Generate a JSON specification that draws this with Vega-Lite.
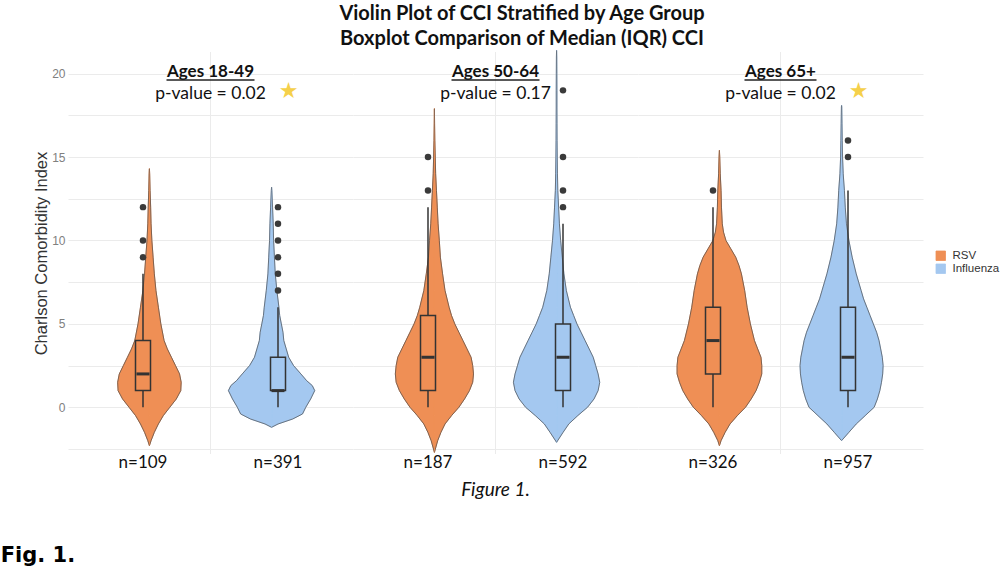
{
  "$schema": "https://vega.github.io/schema/vega-lite/v6.json",
  "padding": {"left": 0, "top": 4, "right": 0, "bottom": 0},
  "background": "white",
  "title": {"text": "Fig. 1.", "orient": "bottom", "anchor": "start", "frame": "bounds", "dx": -33, "offset": 45, "font": "DejaVu Sans", "fontSize": 21, "fontWeight": "bold", "color": "#000000"},
  "data": {"values": [
    {"kind":"v","age":"18-49","virus":"RSV","cci":-2.3,"dens":0},
    {"kind":"v","age":"18-49","virus":"RSV","cci":-2,"dens":0.02},
    {"kind":"v","age":"18-49","virus":"RSV","cci":-1.5,"dens":0.06},
    {"kind":"v","age":"18-49","virus":"RSV","cci":-1,"dens":0.11},
    {"kind":"v","age":"18-49","virus":"RSV","cci":-0.5,"dens":0.17},
    {"kind":"v","age":"18-49","virus":"RSV","cci":0,"dens":0.25},
    {"kind":"v","age":"18-49","virus":"RSV","cci":0.5,"dens":0.33},
    {"kind":"v","age":"18-49","virus":"RSV","cci":1,"dens":0.385},
    {"kind":"v","age":"18-49","virus":"RSV","cci":1.5,"dens":0.39},
    {"kind":"v","age":"18-49","virus":"RSV","cci":2,"dens":0.37},
    {"kind":"v","age":"18-49","virus":"RSV","cci":2.5,"dens":0.32},
    {"kind":"v","age":"18-49","virus":"RSV","cci":3,"dens":0.27},
    {"kind":"v","age":"18-49","virus":"RSV","cci":3.5,"dens":0.22},
    {"kind":"v","age":"18-49","virus":"RSV","cci":4,"dens":0.18},
    {"kind":"v","age":"18-49","virus":"RSV","cci":5,"dens":0.14},
    {"kind":"v","age":"18-49","virus":"RSV","cci":6,"dens":0.11},
    {"kind":"v","age":"18-49","virus":"RSV","cci":7,"dens":0.08},
    {"kind":"v","age":"18-49","virus":"RSV","cci":8,"dens":0.06},
    {"kind":"v","age":"18-49","virus":"RSV","cci":9,"dens":0.045},
    {"kind":"v","age":"18-49","virus":"RSV","cci":10,"dens":0.03},
    {"kind":"v","age":"18-49","virus":"RSV","cci":11,"dens":0.02},
    {"kind":"v","age":"18-49","virus":"RSV","cci":12,"dens":0.015},
    {"kind":"v","age":"18-49","virus":"RSV","cci":13,"dens":0.008},
    {"kind":"v","age":"18-49","virus":"RSV","cci":14,"dens":0.003},
    {"kind":"v","age":"18-49","virus":"RSV","cci":14.3,"dens":0},

    {"kind":"v","age":"18-49","virus":"Influenza","cci":-1.2,"dens":0},
    {"kind":"v","age":"18-49","virus":"Influenza","cci":-1,"dens":0.08},
    {"kind":"v","age":"18-49","virus":"Influenza","cci":-0.7,"dens":0.26},
    {"kind":"v","age":"18-49","virus":"Influenza","cci":-0.4,"dens":0.38},
    {"kind":"v","age":"18-49","virus":"Influenza","cci":0,"dens":0.42},
    {"kind":"v","age":"18-49","virus":"Influenza","cci":0.5,"dens":0.48},
    {"kind":"v","age":"18-49","virus":"Influenza","cci":1,"dens":0.53},
    {"kind":"v","age":"18-49","virus":"Influenza","cci":1.3,"dens":0.5},
    {"kind":"v","age":"18-49","virus":"Influenza","cci":1.6,"dens":0.43},
    {"kind":"v","age":"18-49","virus":"Influenza","cci":2,"dens":0.36},
    {"kind":"v","age":"18-49","virus":"Influenza","cci":2.5,"dens":0.27},
    {"kind":"v","age":"18-49","virus":"Influenza","cci":3,"dens":0.21},
    {"kind":"v","age":"18-49","virus":"Influenza","cci":3.5,"dens":0.18},
    {"kind":"v","age":"18-49","virus":"Influenza","cci":4,"dens":0.15},
    {"kind":"v","age":"18-49","virus":"Influenza","cci":4.5,"dens":0.14},
    {"kind":"v","age":"18-49","virus":"Influenza","cci":5,"dens":0.12},
    {"kind":"v","age":"18-49","virus":"Influenza","cci":5.5,"dens":0.1},
    {"kind":"v","age":"18-49","virus":"Influenza","cci":6,"dens":0.09},
    {"kind":"v","age":"18-49","virus":"Influenza","cci":7,"dens":0.065},
    {"kind":"v","age":"18-49","virus":"Influenza","cci":8,"dens":0.045},
    {"kind":"v","age":"18-49","virus":"Influenza","cci":9,"dens":0.035},
    {"kind":"v","age":"18-49","virus":"Influenza","cci":10,"dens":0.025},
    {"kind":"v","age":"18-49","virus":"Influenza","cci":11,"dens":0.02},
    {"kind":"v","age":"18-49","virus":"Influenza","cci":12,"dens":0.012},
    {"kind":"v","age":"18-49","virus":"Influenza","cci":13,"dens":0.003},
    {"kind":"v","age":"18-49","virus":"Influenza","cci":13.2,"dens":0},

    {"kind":"v","age":"50-64","virus":"RSV","cci":-2.7,"dens":0},
    {"kind":"v","age":"50-64","virus":"RSV","cci":-2,"dens":0.04},
    {"kind":"v","age":"50-64","virus":"RSV","cci":-1.5,"dens":0.08},
    {"kind":"v","age":"50-64","virus":"RSV","cci":-1,"dens":0.13},
    {"kind":"v","age":"50-64","virus":"RSV","cci":-0.5,"dens":0.21},
    {"kind":"v","age":"50-64","virus":"RSV","cci":0,"dens":0.3},
    {"kind":"v","age":"50-64","virus":"RSV","cci":0.5,"dens":0.37},
    {"kind":"v","age":"50-64","virus":"RSV","cci":1,"dens":0.43},
    {"kind":"v","age":"50-64","virus":"RSV","cci":1.5,"dens":0.47},
    {"kind":"v","age":"50-64","virus":"RSV","cci":2,"dens":0.48},
    {"kind":"v","age":"50-64","virus":"RSV","cci":2.5,"dens":0.47},
    {"kind":"v","age":"50-64","virus":"RSV","cci":3,"dens":0.45},
    {"kind":"v","age":"50-64","virus":"RSV","cci":3.5,"dens":0.4},
    {"kind":"v","age":"50-64","virus":"RSV","cci":4,"dens":0.35},
    {"kind":"v","age":"50-64","virus":"RSV","cci":4.5,"dens":0.3},
    {"kind":"v","age":"50-64","virus":"RSV","cci":5,"dens":0.25},
    {"kind":"v","age":"50-64","virus":"RSV","cci":5.5,"dens":0.21},
    {"kind":"v","age":"50-64","virus":"RSV","cci":6,"dens":0.18},
    {"kind":"v","age":"50-64","virus":"RSV","cci":7,"dens":0.13},
    {"kind":"v","age":"50-64","virus":"RSV","cci":8,"dens":0.1},
    {"kind":"v","age":"50-64","virus":"RSV","cci":9,"dens":0.073},
    {"kind":"v","age":"50-64","virus":"RSV","cci":10,"dens":0.06},
    {"kind":"v","age":"50-64","virus":"RSV","cci":11,"dens":0.045},
    {"kind":"v","age":"50-64","virus":"RSV","cci":12,"dens":0.035},
    {"kind":"v","age":"50-64","virus":"RSV","cci":13,"dens":0.025},
    {"kind":"v","age":"50-64","virus":"RSV","cci":14,"dens":0.015},
    {"kind":"v","age":"50-64","virus":"RSV","cci":15,"dens":0.01},
    {"kind":"v","age":"50-64","virus":"RSV","cci":16,"dens":0.005},
    {"kind":"v","age":"50-64","virus":"RSV","cci":17,"dens":0.002},
    {"kind":"v","age":"50-64","virus":"RSV","cci":17.9,"dens":0},

    {"kind":"v","age":"50-64","virus":"Influenza","cci":-2.1,"dens":0},
    {"kind":"v","age":"50-64","virus":"Influenza","cci":-1.5,"dens":0.08},
    {"kind":"v","age":"50-64","virus":"Influenza","cci":-1,"dens":0.15},
    {"kind":"v","age":"50-64","virus":"Influenza","cci":-0.5,"dens":0.26},
    {"kind":"v","age":"50-64","virus":"Influenza","cci":0,"dens":0.38},
    {"kind":"v","age":"50-64","virus":"Influenza","cci":0.5,"dens":0.46},
    {"kind":"v","age":"50-64","virus":"Influenza","cci":1,"dens":0.51},
    {"kind":"v","age":"50-64","virus":"Influenza","cci":1.5,"dens":0.53},
    {"kind":"v","age":"50-64","virus":"Influenza","cci":2,"dens":0.51},
    {"kind":"v","age":"50-64","virus":"Influenza","cci":2.5,"dens":0.48},
    {"kind":"v","age":"50-64","virus":"Influenza","cci":3,"dens":0.45},
    {"kind":"v","age":"50-64","virus":"Influenza","cci":3.5,"dens":0.4},
    {"kind":"v","age":"50-64","virus":"Influenza","cci":4,"dens":0.35},
    {"kind":"v","age":"50-64","virus":"Influenza","cci":4.5,"dens":0.3},
    {"kind":"v","age":"50-64","virus":"Influenza","cci":5,"dens":0.25},
    {"kind":"v","age":"50-64","virus":"Influenza","cci":5.5,"dens":0.21},
    {"kind":"v","age":"50-64","virus":"Influenza","cci":6,"dens":0.17},
    {"kind":"v","age":"50-64","virus":"Influenza","cci":7,"dens":0.12},
    {"kind":"v","age":"50-64","virus":"Influenza","cci":8,"dens":0.09},
    {"kind":"v","age":"50-64","virus":"Influenza","cci":9,"dens":0.07},
    {"kind":"v","age":"50-64","virus":"Influenza","cci":10,"dens":0.05},
    {"kind":"v","age":"50-64","virus":"Influenza","cci":11,"dens":0.035},
    {"kind":"v","age":"50-64","virus":"Influenza","cci":12,"dens":0.025},
    {"kind":"v","age":"50-64","virus":"Influenza","cci":13,"dens":0.015},
    {"kind":"v","age":"50-64","virus":"Influenza","cci":14,"dens":0.011},
    {"kind":"v","age":"50-64","virus":"Influenza","cci":15,"dens":0.008},
    {"kind":"v","age":"50-64","virus":"Influenza","cci":16,"dens":0.006},
    {"kind":"v","age":"50-64","virus":"Influenza","cci":17,"dens":0.005},
    {"kind":"v","age":"50-64","virus":"Influenza","cci":18,"dens":0.004},
    {"kind":"v","age":"50-64","virus":"Influenza","cci":19,"dens":0.004},
    {"kind":"v","age":"50-64","virus":"Influenza","cci":20,"dens":0.003},
    {"kind":"v","age":"50-64","virus":"Influenza","cci":21,"dens":0.002},
    {"kind":"v","age":"50-64","virus":"Influenza","cci":21.4,"dens":0},

    {"kind":"v","age":"65+","virus":"RSV","cci":-2.3,"dens":0},
    {"kind":"v","age":"65+","virus":"RSV","cci":-2,"dens":0.02},
    {"kind":"v","age":"65+","virus":"RSV","cci":-1.5,"dens":0.07},
    {"kind":"v","age":"65+","virus":"RSV","cci":-1,"dens":0.13},
    {"kind":"v","age":"65+","virus":"RSV","cci":-0.5,"dens":0.22},
    {"kind":"v","age":"65+","virus":"RSV","cci":0,"dens":0.32},
    {"kind":"v","age":"65+","virus":"RSV","cci":0.5,"dens":0.39},
    {"kind":"v","age":"65+","virus":"RSV","cci":1,"dens":0.45},
    {"kind":"v","age":"65+","virus":"RSV","cci":1.5,"dens":0.49},
    {"kind":"v","age":"65+","virus":"RSV","cci":2,"dens":0.52},
    {"kind":"v","age":"65+","virus":"RSV","cci":2.5,"dens":0.52},
    {"kind":"v","age":"65+","virus":"RSV","cci":3,"dens":0.51},
    {"kind":"v","age":"65+","virus":"RSV","cci":3.5,"dens":0.47},
    {"kind":"v","age":"65+","virus":"RSV","cci":4,"dens":0.43},
    {"kind":"v","age":"65+","virus":"RSV","cci":5,"dens":0.38},
    {"kind":"v","age":"65+","virus":"RSV","cci":6,"dens":0.34},
    {"kind":"v","age":"65+","virus":"RSV","cci":7,"dens":0.31},
    {"kind":"v","age":"65+","virus":"RSV","cci":8,"dens":0.27},
    {"kind":"v","age":"65+","virus":"RSV","cci":8.5,"dens":0.24},
    {"kind":"v","age":"65+","virus":"RSV","cci":9,"dens":0.2},
    {"kind":"v","age":"65+","virus":"RSV","cci":9.5,"dens":0.14},
    {"kind":"v","age":"65+","virus":"RSV","cci":10,"dens":0.08},
    {"kind":"v","age":"65+","virus":"RSV","cci":10.5,"dens":0.05},
    {"kind":"v","age":"65+","virus":"RSV","cci":11,"dens":0.035},
    {"kind":"v","age":"65+","virus":"RSV","cci":12,"dens":0.025},
    {"kind":"v","age":"65+","virus":"RSV","cci":13,"dens":0.02},
    {"kind":"v","age":"65+","virus":"RSV","cci":14,"dens":0.01},
    {"kind":"v","age":"65+","virus":"RSV","cci":15,"dens":0.004},
    {"kind":"v","age":"65+","virus":"RSV","cci":15.4,"dens":0},

    {"kind":"v","age":"65+","virus":"Influenza","cci":-2,"dens":0},
    {"kind":"v","age":"65+","virus":"Influenza","cci":-1.5,"dens":0.09},
    {"kind":"v","age":"65+","virus":"Influenza","cci":-1,"dens":0.18},
    {"kind":"v","age":"65+","virus":"Influenza","cci":-0.5,"dens":0.29},
    {"kind":"v","age":"65+","virus":"Influenza","cci":0,"dens":0.4},
    {"kind":"v","age":"65+","virus":"Influenza","cci":0.5,"dens":0.44},
    {"kind":"v","age":"65+","virus":"Influenza","cci":1,"dens":0.47},
    {"kind":"v","age":"65+","virus":"Influenza","cci":1.5,"dens":0.49},
    {"kind":"v","age":"65+","virus":"Influenza","cci":2,"dens":0.505},
    {"kind":"v","age":"65+","virus":"Influenza","cci":2.5,"dens":0.51},
    {"kind":"v","age":"65+","virus":"Influenza","cci":3,"dens":0.5},
    {"kind":"v","age":"65+","virus":"Influenza","cci":3.5,"dens":0.48},
    {"kind":"v","age":"65+","virus":"Influenza","cci":4,"dens":0.46},
    {"kind":"v","age":"65+","virus":"Influenza","cci":4.5,"dens":0.43},
    {"kind":"v","age":"65+","virus":"Influenza","cci":5,"dens":0.39},
    {"kind":"v","age":"65+","virus":"Influenza","cci":5.5,"dens":0.35},
    {"kind":"v","age":"65+","virus":"Influenza","cci":6,"dens":0.31},
    {"kind":"v","age":"65+","virus":"Influenza","cci":6.5,"dens":0.27},
    {"kind":"v","age":"65+","virus":"Influenza","cci":7,"dens":0.24},
    {"kind":"v","age":"65+","virus":"Influenza","cci":7.5,"dens":0.21},
    {"kind":"v","age":"65+","virus":"Influenza","cci":8,"dens":0.18},
    {"kind":"v","age":"65+","virus":"Influenza","cci":9,"dens":0.13},
    {"kind":"v","age":"65+","virus":"Influenza","cci":10,"dens":0.09},
    {"kind":"v","age":"65+","virus":"Influenza","cci":11,"dens":0.06},
    {"kind":"v","age":"65+","virus":"Influenza","cci":12,"dens":0.045},
    {"kind":"v","age":"65+","virus":"Influenza","cci":13,"dens":0.035},
    {"kind":"v","age":"65+","virus":"Influenza","cci":14,"dens":0.02},
    {"kind":"v","age":"65+","virus":"Influenza","cci":15,"dens":0.012},
    {"kind":"v","age":"65+","virus":"Influenza","cci":16,"dens":0.008},
    {"kind":"v","age":"65+","virus":"Influenza","cci":17,"dens":0.005},
    {"kind":"v","age":"65+","virus":"Influenza","cci":18,"dens":0.002},
    {"kind":"v","age":"65+","virus":"Influenza","cci":18.1,"dens":0},

    {"kind":"b","age":"18-49","virus":"RSV","lo":0,"q1":1,"med":2,"q3":4,"hi":8,"nlab":"n=109"},
    {"kind":"b","age":"18-49","virus":"Influenza","lo":0,"q1":1,"med":1,"q3":3,"hi":6,"nlab":"n=391"},
    {"kind":"b","age":"50-64","virus":"RSV","lo":0,"q1":1,"med":3,"q3":5.5,"hi":12,"nlab":"n=187"},
    {"kind":"b","age":"50-64","virus":"Influenza","lo":0,"q1":1,"med":3,"q3":5,"hi":11,"nlab":"n=592"},
    {"kind":"b","age":"65+","virus":"RSV","lo":0,"q1":2,"med":4,"q3":6,"hi":12,"nlab":"n=326"},
    {"kind":"b","age":"65+","virus":"Influenza","lo":0,"q1":1,"med":3,"q3":6,"hi":13,"nlab":"n=957"},

    {"kind":"o","age":"18-49","virus":"RSV","cci":9},
    {"kind":"o","age":"18-49","virus":"RSV","cci":10},
    {"kind":"o","age":"18-49","virus":"RSV","cci":12},
    {"kind":"o","age":"18-49","virus":"Influenza","cci":7},
    {"kind":"o","age":"18-49","virus":"Influenza","cci":8},
    {"kind":"o","age":"18-49","virus":"Influenza","cci":9},
    {"kind":"o","age":"18-49","virus":"Influenza","cci":10},
    {"kind":"o","age":"18-49","virus":"Influenza","cci":11},
    {"kind":"o","age":"18-49","virus":"Influenza","cci":12},
    {"kind":"o","age":"50-64","virus":"RSV","cci":13},
    {"kind":"o","age":"50-64","virus":"RSV","cci":15},
    {"kind":"o","age":"50-64","virus":"Influenza","cci":12},
    {"kind":"o","age":"50-64","virus":"Influenza","cci":13},
    {"kind":"o","age":"50-64","virus":"Influenza","cci":15},
    {"kind":"o","age":"50-64","virus":"Influenza","cci":19},
    {"kind":"o","age":"65+","virus":"RSV","cci":13},
    {"kind":"o","age":"65+","virus":"Influenza","cci":15},
    {"kind":"o","age":"65+","virus":"Influenza","cci":16},

    {"kind":"a","age":"18-49","title":"Ages 18-49","pv":"p-value = 0.02","star":"★"},
    {"kind":"a","age":"50-64","title":"Ages 50-64","pv":"p-value = 0.17","star":""},
    {"kind":"a","age":"65+","title":"Ages 65+","pv":"p-value = 0.02","star":"★"}
  ]},
  "vconcat": [{
    "title": {"text": ["Violin Plot of CCI Stratified by Age Group", "Boxplot Comparison of Median (IQR) CCI"], "font": "Lato", "fontSize": 20, "fontWeight": "bold", "lineHeight": 25, "anchor": "middle", "frame": "group", "dx": 454, "offset": -1, "color": "#111111"},
    "facet": {"column": {"field": "age", "type": "nominal", "title": null, "sort": ["18-49", "50-64", "65+"],
      "header": {"labelOrient": "bottom", "labelExpr": "datum.value === '50-64' ? 'Figure 1.' : ''", "labelFont": "Lato", "labelFontSize": 19, "labelFontStyle": "italic", "labelColor": "#111111", "labelPadding": 10}}},
    "spacing": 0,
    "spec": {
      "width": 285,
      "height": 402,
      "resolve": {"scale": {"x": "independent"}},
      "layer": [
        {"transform": [{"filter": "datum.kind === 'v' && datum.virus === 'RSV'"}],
         "layer": [
          {"mark": {"type": "area", "orient": "horizontal", "strokeWidth": 1},
           "encoding": {
             "y": {"field": "cci", "type": "quantitative", "title": "Charlson Comorbidity Index",
                   "scale": {"domain": [-2.8, 21.3], "nice": false, "zero": false},
                   "axis": {"values": [-2.5, 0, 2.5, 5, 7.5, 10, 12.5, 15, 17.5, 20], "labelExpr": "datum.value % 5 === 0 ? '' + datum.value : ''", "grid": true, "gridColor": "#EBEBEB", "gridWidth": 1, "ticks": false, "domain": false, "labelFont": "Liberation Sans", "labelFontSize": 12, "labelColor": "#808080", "labelPadding": 3, "titleFont": "Liberation Sans", "titleFontSize": 16.5, "titleFontWeight": "normal", "titleColor": "#333333", "titlePadding": 2}},
             "x": {"field": "dens", "type": "quantitative", "stack": null, "scale": {"domain": [-0.84, 2.01]}, "axis": null},
             "color": {"field": "virus", "type": "nominal", "scale": {"domain": ["RSV", "Influenza"], "range": ["#EF8F55", "#A4C8F0"]},
                       "legend": {"title": null, "orient": "none", "legendX": 867, "legendY": 198, "symbolType": "square", "symbolSize": 90, "symbolStrokeColor": "#555555", "symbolStrokeWidth": 0.8, "symbolOpacity": 1, "labelFont": "Liberation Sans", "labelFontSize": 11.5, "labelColor": "#333333", "rowPadding": -3, "labelOffset": 6}},
             "stroke": {"field": "virus", "type": "nominal", "scale": {"domain": ["RSV", "Influenza"], "range": ["#EF8F55", "#A4C8F0"]}, "legend": null}
           }},
          {"mark": {"type": "line", "color": "#4d4d4d", "strokeWidth": 0.7},
           "encoding": {"y": {"field": "cci", "type": "quantitative"}, "x": {"field": "dens", "type": "quantitative"}, "order": {"field": "cci", "type": "quantitative"}}}
         ]},
        {"transform": [{"filter": "datum.kind === 'v' && datum.virus === 'RSV'"}],
         "layer": [
          {"mark": {"type": "area", "orient": "horizontal", "strokeWidth": 1},
           "encoding": {
             "y": {"field": "cci", "type": "quantitative"},
             "x": {"field": "dens", "type": "quantitative", "stack": null, "scale": {"domain": [-2.01, 0.84], "reverse": true}, "axis": null},
             "color": {"field": "virus", "type": "nominal"},
             "stroke": {"field": "virus", "type": "nominal", "legend": null}
           }},
          {"mark": {"type": "line", "color": "#4d4d4d", "strokeWidth": 0.7},
           "encoding": {"y": {"field": "cci", "type": "quantitative"}, "x": {"field": "dens", "type": "quantitative"}, "order": {"field": "cci", "type": "quantitative"}}}
         ]},
        {"transform": [{"filter": "datum.kind === 'v' && datum.virus === 'Influenza'"}],
         "layer": [
          {"mark": {"type": "area", "orient": "horizontal", "strokeWidth": 1},
           "encoding": {
             "y": {"field": "cci", "type": "quantitative"},
             "x": {"field": "dens", "type": "quantitative", "stack": null, "scale": {"domain": [-2.01, 0.84]}, "axis": null},
             "color": {"field": "virus", "type": "nominal"},
             "stroke": {"field": "virus", "type": "nominal", "legend": null}
           }},
          {"mark": {"type": "line", "color": "#4d4d4d", "strokeWidth": 0.7},
           "encoding": {"y": {"field": "cci", "type": "quantitative"}, "x": {"field": "dens", "type": "quantitative"}, "order": {"field": "cci", "type": "quantitative"}}}
         ]},
        {"transform": [{"filter": "datum.kind === 'v' && datum.virus === 'Influenza'"}],
         "layer": [
          {"mark": {"type": "area", "orient": "horizontal", "strokeWidth": 1},
           "encoding": {
             "y": {"field": "cci", "type": "quantitative"},
             "x": {"field": "dens", "type": "quantitative", "stack": null, "scale": {"domain": [-0.84, 2.01], "reverse": true}, "axis": null},
             "color": {"field": "virus", "type": "nominal"},
             "stroke": {"field": "virus", "type": "nominal", "legend": null}
           }},
          {"mark": {"type": "line", "color": "#4d4d4d", "strokeWidth": 0.7},
           "encoding": {"y": {"field": "cci", "type": "quantitative"}, "x": {"field": "dens", "type": "quantitative"}, "order": {"field": "cci", "type": "quantitative"}}}
         ]},
        {"layer": [
          {"transform": [{"filter": "datum.kind === 'a'"}],
           "mark": {"type": "rule", "color": "#EBEBEB", "strokeWidth": 1},
           "encoding": {"x": {"datum": "mid", "type": "nominal", "scale": {"type": "band", "domain": ["RSV", "mid", "Influenza"], "paddingInner": 0.7778, "paddingOuter": 1.3248}, "axis": null}}},
          {"transform": [{"filter": "datum.kind === 'b'"}],
           "mark": {"type": "rule", "color": "#333333", "strokeWidth": 1.5},
           "encoding": {"x": {"field": "virus", "type": "nominal", "scale": {"type": "band", "domain": ["RSV", "mid", "Influenza"], "paddingInner": 0.7778, "paddingOuter": 1.3248}, "axis": null},
                        "y": {"field": "lo", "type": "quantitative"}, "y2": {"field": "q1"}}},
          {"transform": [{"filter": "datum.kind === 'b'"}],
           "mark": {"type": "rule", "color": "#333333", "strokeWidth": 1.5},
           "encoding": {"x": {"field": "virus", "type": "nominal", "scale": {"type": "band", "domain": ["RSV", "mid", "Influenza"], "paddingInner": 0.7778, "paddingOuter": 1.3248}, "axis": null},
                        "y": {"field": "q3", "type": "quantitative"}, "y2": {"field": "hi"}}},
          {"transform": [{"filter": "datum.kind === 'b'"}],
           "mark": {"type": "bar", "fill": "transparent", "stroke": "#333333", "strokeWidth": 1.5},
           "encoding": {"x": {"field": "virus", "type": "nominal", "scale": {"type": "band", "domain": ["RSV", "mid", "Influenza"], "paddingInner": 0.7778, "paddingOuter": 1.3248}, "axis": null},
                        "y": {"field": "q1", "type": "quantitative"}, "y2": {"field": "q3"}}},
          {"transform": [{"filter": "datum.kind === 'b'"}],
           "mark": {"type": "tick", "orient": "horizontal", "color": "#333333", "thickness": 3, "size": 13, "opacity": 1},
           "encoding": {"x": {"field": "virus", "type": "nominal", "scale": {"type": "band", "domain": ["RSV", "mid", "Influenza"], "paddingInner": 0.7778, "paddingOuter": 1.3248}, "axis": null},
                        "y": {"field": "med", "type": "quantitative"}}},
          {"transform": [{"filter": "datum.kind === 'o'"}],
           "mark": {"type": "point", "filled": true, "color": "#3a3a3a", "size": 42, "opacity": 1},
           "encoding": {"x": {"field": "virus", "type": "nominal", "scale": {"type": "band", "domain": ["RSV", "mid", "Influenza"], "paddingInner": 0.7778, "paddingOuter": 1.3248}, "axis": null},
                        "y": {"field": "cci", "type": "quantitative"}}},
          {"transform": [{"filter": "datum.kind === 'b'"}],
           "mark": {"type": "text", "font": "Lato", "fontSize": 17, "color": "#111111", "baseline": "middle"},
           "encoding": {"x": {"field": "virus", "type": "nominal", "scale": {"type": "band", "domain": ["RSV", "mid", "Influenza"], "paddingInner": 0.7778, "paddingOuter": 1.3248}, "axis": null},
                        "y": {"datum": -3.33}, "text": {"field": "nlab"}}},
          {"transform": [{"filter": "datum.kind === 'a'"}],
           "mark": {"type": "text", "font": "Lato", "fontSize": 17, "fontWeight": "bold", "color": "#111111", "baseline": "alphabetic"},
           "encoding": {"x": {"datum": "mid", "type": "nominal", "scale": {"type": "band", "domain": ["RSV", "mid", "Influenza"], "paddingInner": 0.7778, "paddingOuter": 1.3248}, "axis": null},
                        "y": {"datum": 19.8}, "text": {"field": "title"}}},
          {"transform": [{"filter": "datum.kind === 'a'"}],
           "mark": {"type": "tick", "orient": "horizontal", "color": "#222222", "thickness": 1.3, "opacity": 1},
           "encoding": {"x": {"datum": "mid", "type": "nominal", "scale": {"type": "band", "domain": ["RSV", "mid", "Influenza"], "paddingInner": 0.7778, "paddingOuter": 1.3248}, "axis": null},
                        "y": {"datum": 19.62},
                        "size": {"condition": {"test": "datum.age === '65+'", "value": 72}, "value": 88}}},
          {"transform": [{"filter": "datum.kind === 'a'"}],
           "mark": {"type": "text", "font": "Lato", "fontSize": 17.5, "color": "#111111", "baseline": "alphabetic"},
           "encoding": {"x": {"datum": "mid", "type": "nominal", "scale": {"type": "band", "domain": ["RSV", "mid", "Influenza"], "paddingInner": 0.7778, "paddingOuter": 1.3248}, "axis": null},
                        "y": {"datum": 18.5}, "text": {"field": "pv"}}},
          {"transform": [{"filter": "datum.kind === 'a'"}],
           "mark": {"type": "text", "font": "DejaVu Sans", "fontSize": 22, "color": "#F5D04A", "baseline": "middle", "dx": 78},
           "encoding": {"x": {"datum": "mid", "type": "nominal", "scale": {"type": "band", "domain": ["RSV", "mid", "Influenza"], "paddingInner": 0.7778, "paddingOuter": 1.3248}, "axis": null},
                        "y": {"datum": 18.95}, "text": {"field": "star"}}}
        ]}
      ]
    }
  }],
  "config": {"view": {"stroke": null}}
}
